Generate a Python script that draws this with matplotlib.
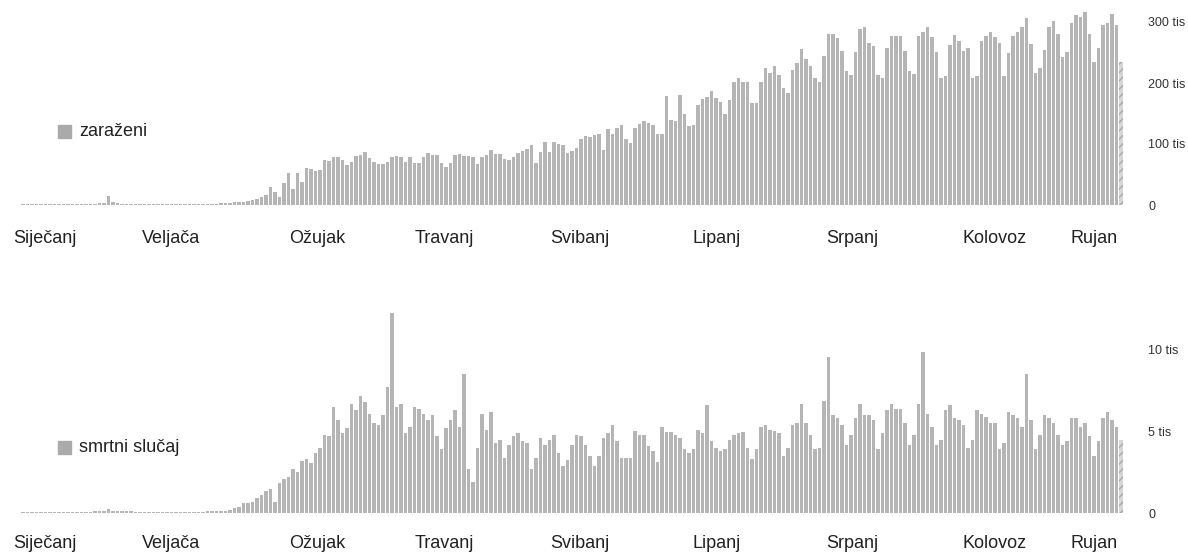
import matplotlib
matplotlib.use('Agg')
import matplotlib.pyplot as plt
import numpy as np

plt.rcParams['font.family'] = ['Liberation Sans', 'DejaVu Sans']

# dnevni podaci, u tisućama (od sredine siječnja do rujna)
zarazeni = [
    1.5, 1.5, 1.5, 1.5, 1.6, 1.6, 1.6, 1.7, 1.7, 1.8, 1.8, 1.9, 1.9, 2.0, 2.0, 2.2, 2.2, 2.5, 2.5,
    14,
    4.5, 2.5, 2.0, 1.8, 1.6, 1.6, 1.6, 1.5, 1.5, 1.5, 1.5, 1.5, 1.5, 1.5, 1.5, 1.6, 1.6, 1.7, 1.8, 1.9,
    2.0, 2.1, 2.2, 2.4, 2.6,
    2.7, 3.8, 4.4, 4.9, 5.5, 6, 7.7, 9.3, 12.6, 16.4, 29, 22, 12.6, 35.5, 53, 27, 53, 38, 60, 59,
    55, 57, 73, 72, 78, 78, 73, 66, 71, 80, 82, 87, 77, 71, 68, 68, 71, 79, 80, 78, 71,
    79, 69, 69, 78, 85, 82, 82, 69, 63, 69, 82, 84, 81, 81, 78, 67, 78, 82, 90, 84,
    84, 75, 73, 79, 85, 89, 91, 98, 69, 87, 103, 87, 103, 100, 99, 85, 89, 93, 108, 113,
    112, 115, 117, 90, 124, 116, 126, 131, 109, 102, 126, 133, 138, 134, 131, 116, 116, 178, 140, 137,
    180, 150, 130, 131, 164, 173, 177, 187, 175, 169, 150, 172, 202, 208, 201, 201, 168, 167, 201, 224,
    217, 228, 213, 191, 184, 222, 233, 255, 240, 228, 208, 201, 244, 281, 280, 273, 253, 219, 213, 251,
    288, 292, 265, 260, 213, 208, 258, 277, 277, 277, 253, 219, 214, 277, 283, 292, 275, 251, 209, 211,
    262,
    279, 269, 253, 257, 208, 211, 269, 277, 283, 276, 266, 211, 250, 277, 283, 291, 306, 264, 217, 224,
    254, 292, 301, 280, 243, 251, 298, 311, 308, 317, 281, 235, 257, 295, 299, 313, 295, 235,
]

smrtni = [
    0.06, 0.06, 0.06, 0.06, 0.07, 0.07, 0.07, 0.07, 0.08, 0.08, 0.08, 0.08, 0.09, 0.09, 0.09, 0.09,
    0.1, 0.1, 0.1,
    0.25,
    0.12, 0.1, 0.1, 0.1, 0.1, 0.09, 0.09, 0.08, 0.08, 0.08, 0.08, 0.07, 0.07, 0.07, 0.07, 0.07, 0.07,
    0.08, 0.08, 0.08, 0.09, 0.1, 0.1, 0.12, 0.12,
    0.14, 0.18, 0.29, 0.35, 0.6, 0.63, 0.7, 0.9, 1.1, 1.37, 1.5, 0.7, 1.86, 2.1, 2.2, 2.7, 2.5, 3.2,
    3.3, 3.05, 3.66, 4.0, 4.8, 4.7, 6.5, 5.7, 4.9, 5.2, 6.7, 6.3, 7.2, 6.8, 6.1, 5.5, 5.4, 6.0, 7.7,
    12.3, 6.5, 6.7, 4.9, 5.3, 6.5, 6.4, 6.1, 5.7, 6.0, 4.7, 3.9, 5.2, 5.7, 6.3, 5.3, 8.5, 2.7, 1.9,
    4.0, 6.1, 5.1, 6.2, 4.3, 4.5, 3.4, 4.2, 4.7, 4.9, 4.4, 4.3, 2.7, 3.4, 4.6, 4.2, 4.5, 4.8, 3.7,
    2.9, 3.25, 4.2, 4.8, 4.7, 4.2, 3.5, 2.9, 3.5, 4.6, 4.9, 5.4, 4.4, 3.4, 3.4, 3.4, 5.05, 4.8, 4.8,
    4.1, 3.8, 3.1, 5.3, 5.0, 5.0, 4.8, 4.6, 3.9, 3.7, 3.9, 5.1, 4.9, 6.6, 4.4, 4.0, 3.8, 3.9, 4.5,
    4.8, 4.9, 5.0, 4.0, 3.3, 3.9, 5.3, 5.4,
    5.1, 5.05, 4.9, 3.5, 4.0, 5.4, 5.5, 6.7, 5.5, 4.8, 3.9, 4.0, 6.9, 9.6,
    6.0, 5.8, 5.4, 4.2, 4.8, 5.8, 6.7, 6.0, 6.0, 5.7, 3.9, 4.9, 6.3, 6.7, 6.4, 6.4, 5.5, 4.2, 4.8, 6.7,
    9.9,
    6.1, 5.3, 4.2, 4.5, 6.3, 6.6, 5.8, 5.7, 5.4, 4.0, 4.5, 6.3, 6.1, 5.9, 5.5, 5.5, 3.9, 4.3, 6.2,
    6.0, 5.8, 5.3,
    8.5,
    5.7, 3.9, 4.8, 6.0, 5.8, 5.5, 4.8, 4.2, 4.4, 5.8, 5.8, 5.3, 5.5, 4.7, 3.5, 4.4, 5.8, 6.2, 5.7,
    5.3, 4.5,
]

mjeseci = ['Siječanj', 'Veljača', 'Ožujak', 'Travanj', 'Svibanj', 'Lipanj', 'Srpanj', 'Kolovoz', 'Rujan']
mjeseci_pos = [4.9, 32.9, 65.3, 93.6, 123.8, 154.2, 184.2, 215.8, 238.1]

BOJA = '#b5b5b5'
W, H = 1188, 556


def panel(rect, vrijednosti, ylim, yticks, ylabels, naziv, leg_y, xpad):
    ax = fig.add_axes(rect)
    x = np.arange(len(vrijednosti))
    bars = ax.bar(x, vrijednosti, width=0.68, color=BOJA, linewidth=0)
    # zadnji dan je nepotpun - šrafirano
    bars[-1].set_facecolor('#d6d6d6')
    bars[-1].set_hatch('////')
    bars[-1].set_edgecolor('#a8a8a8')
    ax.set_xlim(-2, 246)
    ax.set_ylim(*ylim)
    for s in ax.spines.values():
        s.set_visible(False)
    ax.yaxis.tick_right()
    ax.set_yticks(yticks)
    ax.set_yticklabels(ylabels, fontsize=9, color='#333333')
    ax.tick_params(axis='y', length=0, pad=13)
    ax.set_xticks(mjeseci_pos)
    ax.set_xticklabels(mjeseci, fontsize=13, color='#222222')
    ax.tick_params(axis='x', length=0, pad=xpad)
    for lab in ax.get_yticklabels():
        lab.set_horizontalalignment('left')
    # legenda
    fig.patches.append(plt.Rectangle((58 / W, 1 - (leg_y + 6.5) / H), 13 / W, 13 / H,
                                     transform=fig.transFigure, color='#aaaaaa'))
    fig.text(79 / W, 1 - leg_y / H, naziv, fontsize=13, color='#222222', va='center')
    return ax


fig = plt.figure(figsize=(W / 100, H / 100), dpi=100)

panel([14 / W, (H - 205) / H, 1116 / W, 200 / H], zarazeni, (0, 200 / 0.61),
      [0, 100, 200, 300], ['0', '100 tis', '200 tis', '300 tis'], 'zaraženi', 131, 18)
panel([14 / W, (H - 513) / H, 1116 / W, 213 / H], smrtni, (0, 213 / 16.3),
      [0, 5, 10], ['0', '5 tis', '10 tis'], 'smrtni slučaj', 447, 16)

fig.savefig('out.png', dpi=100)
